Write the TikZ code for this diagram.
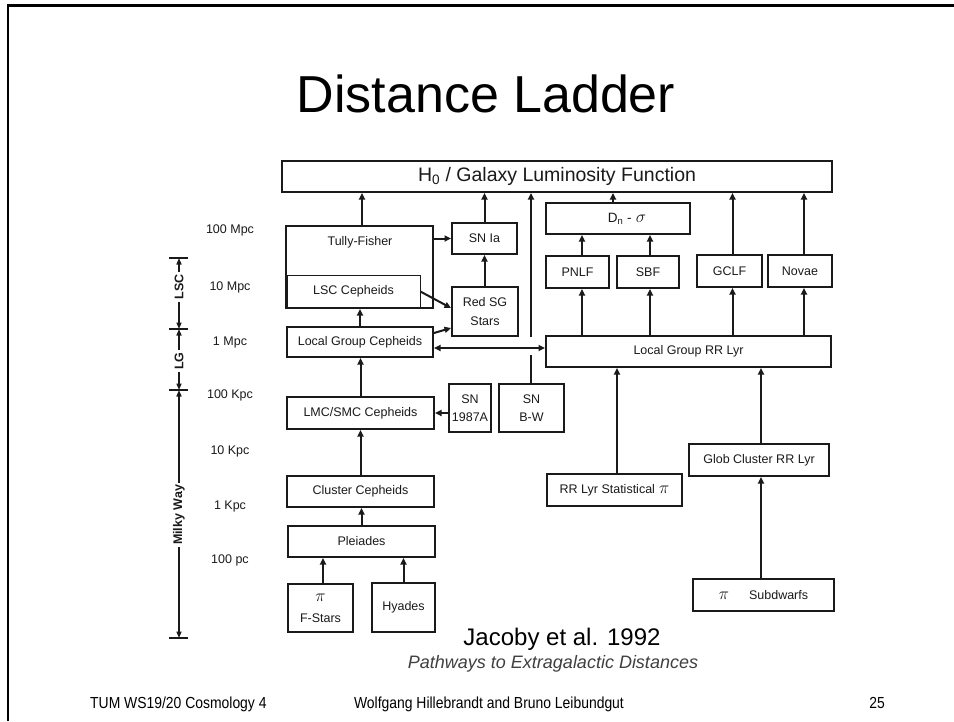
\documentclass[tikz,border=0pt]{standalone}
\usepackage{fontspec}
\setmainfont{Liberation Sans}
\usetikzlibrary{arrows.meta,calc}
\definecolor{ink}{HTML}{1A1A1A}
\definecolor{subt}{HTML}{404040}
\newcommand{\dlfont}{\fontsize{12.5}{15}\selectfont}
\newcommand{\axfont}{\fontsize{12.5}{14}\selectfont\bfseries}
\newcommand{\hzfont}{\fontsize{19.5}{22}\selectfont}
\newcommand{\ftfont}{\fontsize{16}{18}\selectfont}
\newcommand{\bigpi}{{\fontsize{17}{17}\selectfont$\pi$}}
\begin{document}
\begin{tikzpicture}[x=1pt,y=-1pt,
  box/.style={draw=ink, line width=2pt, inner sep=0pt, font=\dlfont, align=center, text=ink},
  arr/.style={draw=ink, line width=2pt, -{Triangle[length=6.5pt,width=6pt]}},
  dblarr/.style={draw=ink, line width=2pt, {Triangle[length=6.5pt,width=6pt]}-{Triangle[length=6.5pt,width=6pt]}},
  plain/.style={draw=ink, line width=2pt},
  axarr/.style={draw=ink, line width=1.5pt, -{Triangle[length=6.5pt,width=5pt]}},
  tickline/.style={draw=ink, line width=1.2pt},
  lbl/.style={font=\dlfont, text=ink, inner sep=1pt},
  axlbl/.style={font=\axfont, text=ink, rotate=90, inner sep=2pt},
  ]
\useasboundingbox (0,0) rectangle (954,721);
\fill[white] (0,0) rectangle (954,721);
% slide frame
\draw[line width=2.5pt, black] (8,721) -- (8,5.5) -- (954,5.5);

% title
\node[font=\fontsize{52}{60}\selectfont, anchor=base] (title) at (486,112) {Distance Ladder};

% boxes
\node[box, minimum width=550pt, minimum height=31pt, font=\hzfont] (h0) at (557,176.5) {H\textsubscript{0} / Galaxy Luminosity Function};
\node[box, minimum width=147pt, minimum height=82pt] (tf) at (359.5,267) {};
\node[lbl] (tft) at (360,242) {Tully-Fisher};
\node[draw=ink, line width=0.8pt, inner sep=0pt, minimum width=133pt, minimum height=33pt, font=\dlfont, text=ink] (lsc) at (353.5,291.5) {LSC Cepheids};
\node[box, minimum width=146pt, minimum height=30pt] (lgc) at (360,342) {Local Group Cepheids};
\node[box, minimum width=147pt, minimum height=32pt] (lmc) at (360.5,413) {LMC/SMC Cepheids};
\node[box, minimum width=147pt, minimum height=31pt] (clc) at (360.5,491.5) {Cluster Cepheids};
\node[box, minimum width=147pt, minimum height=31pt] (ple) at (361.5,541.5) {Pleiades};
\node[box, minimum width=65pt, minimum height=48pt, font=\fontsize{12.5}{21}\selectfont] (fst) at (320.5,608) {\bigpi\\F-Stars};
\node[box, minimum width=63pt, minimum height=49pt] (hya) at (403.5,607.5) {Hyades};
\node[box, minimum width=65pt, minimum height=31pt] (snia) at (484.5,238.5) {SN Ia};
\node[box, minimum width=66pt, minimum height=49pt, font=\fontsize{12.5}{19}\selectfont] (rsg) at (485,311.5) {Red SG\\Stars};
\node[box, minimum width=42pt, minimum height=48pt, font=\fontsize{12.5}{18}\selectfont] (sn87) at (470,408) {SN\\1987A};
\node[box, minimum width=65pt, minimum height=48pt, font=\fontsize{12.5}{18}\selectfont] (snbw) at (531.5,408) {SN\\B-W};
\node[box, minimum width=144pt, minimum height=31pt] (dn) at (618,218.5) {\hspace*{18pt}{\fontsize{13.5}{14}\selectfont D\textsubscript{n} -}\,\,{\fontsize{18}{18}\selectfont$\sigma$}};
\node[box, minimum width=63pt, minimum height=32pt] (pnlf) at (577.5,272) {PNLF};
\node[box, minimum width=62pt, minimum height=32pt] (sbf) at (648,272) {SBF};
\node[box, minimum width=65pt, minimum height=32pt] (gclf) at (729.5,271) {GCLF};
\node[box, minimum width=64pt, minimum height=32pt] (nov) at (800,271) {Novae};
\node[box, minimum width=285pt, minimum height=31pt] (lgrr) at (688.5,351.5) {Local Group RR Lyr};
\node[box, minimum width=135pt, minimum height=32pt] (rrs) at (614.5,490) {RR Lyr Statistical\,\,\bigpi};
\node[box, minimum width=140pt, minimum height=32pt] (glob) at (759,460) {Glob Cluster RR Lyr};
\node[box, minimum width=141pt, minimum height=32pt] (sub) at (763.5,595) {\bigpi\hspace{20pt}Subdwarfs};

% connectors
\draw[arr] ([xshift=2.5pt]tf.north) -- ([xshift=2.5pt]tf.north |- h0.south);
\draw[arr] (snia.north) -- (snia.north |- h0.south);
\draw[arr] (snia.south |- rsg.north) -- (snia.south);
\draw[arr] (snia.west -| tf.east) -- (snia.west);
\draw[arr] (lsc.east) -- ([yshift=3.5pt]rsg.west);
\draw[arr] ([yshift=9pt]lgc.east) -- ([yshift=-16.5pt]rsg.west);
\draw[dblarr] ([yshift=-6pt]lgc.east) -- ([yshift=-6pt]lgc.east -| lgrr.west);
\coordinate (gapb) at (531,355);
\coordinate (gapt) at (531,337);
\draw[plain] (gapb |- snbw.north) -- (gapb);
\draw[arr] (gapt) -- (gapt |- h0.south);
\draw[arr] (sn87.west |- lmc.east) -- (lmc.east);
\draw[arr] (lgc.north) -- (lgc.north |- tf.south);
\draw[arr] (lmc.north) -- (lmc.north |- lgc.south);
\draw[arr] (clc.north) -- (clc.north |- lmc.south);
\draw[arr] (ple.north) -- (ple.north |- clc.south);
\draw[arr] ([xshift=2.5pt]fst.north) -- ([xshift=2.5pt]fst.north |- ple.south);
\draw[arr] (hya.north) -- (hya.north |- ple.south);
\draw[arr] ([xshift=-5pt]dn.north) -- ([xshift=-5pt]dn.north |- h0.south);
\draw[arr] ([xshift=4.5pt]pnlf.north |- lgrr.north) -- ([xshift=4.5pt]pnlf.south);
\draw[arr] ([xshift=4.5pt]pnlf.north) -- ([xshift=4.5pt]pnlf.north |- dn.south);
\draw[arr] ([xshift=2pt]sbf.north |- lgrr.north) -- ([xshift=2pt]sbf.south);
\draw[arr] ([xshift=2pt]sbf.north) -- ([xshift=2pt]sbf.north |- dn.south);
\draw[arr] ([xshift=3pt]gclf.north |- lgrr.north) -- ([xshift=3pt]gclf.south);
\draw[arr] ([xshift=3pt]gclf.north) -- ([xshift=3pt]gclf.north |- h0.south);
\draw[arr] ([xshift=4pt]nov.north |- lgrr.north) -- ([xshift=4pt]nov.south);
\draw[arr] ([xshift=4pt]nov.north) -- ([xshift=4pt]nov.north |- h0.south);
\draw[arr] ([xshift=2.5pt]rrs.north) -- ([xshift=2.5pt]rrs.north |- lgrr.south);
\draw[arr] ([xshift=2pt]glob.north) -- ([xshift=2pt]glob.north |- lgrr.south);
\draw[arr] ([xshift=2pt]glob.south |- sub.north) -- ([xshift=2pt]glob.south);

% distance scale
\node[lbl] (d1) at (230,230) {100 Mpc};
\node[lbl] (d2) at (230,287) {10 Mpc};
\node[lbl] (d3) at (230,342) {1 Mpc};
\node[lbl] (d4) at (230,395) {100 Kpc};
\node[lbl] (d5) at (230,451) {10 Kpc};
\node[lbl] (d6) at (230,506) {1 Kpc};
\node[lbl] (d7) at (230,560) {100 pc};

\coordinate (t1) at (179,258);
\coordinate (t2) at (179,329);
\coordinate (t3) at (179,390);
\coordinate (t4) at (179,638);
\foreach \t in {t1,t2,t3,t4} {\draw[tickline] ([xshift=-10pt]\t) -- ([xshift=9pt]\t);}
\node[axlbl] (lscl) at (179,287) {LSC};
\node[axlbl] (lgl) at (179,361) {LG};
\node[axlbl] (mwl) at (179,515) {Milky Way};
\draw[axarr] (lscl.east) -- (t1);
\draw[axarr] (lscl.west) -- (t2);
\draw[axarr] (lgl.east) -- (t2);
\draw[axarr] (lgl.west) -- (t3);
\draw[axarr] (mwl.east) -- (t3);
\draw[axarr] (mwl.west) -- (t4);

% source
\node[font=\fontsize{24}{28}\selectfont, anchor=base] (src) at (562,645) {Jacoby et al. 1992};
\node[font=\fontsize{18}{22}\selectfont\itshape, text=subt, anchor=base] (book) at (553,668) {Pathways to Extragalactic Distances};

% footer
\node[font=\ftfont, anchor=base west, inner sep=0pt] (f1) at (90,708) {\scalebox{0.87}[1]{TUM WS19/20 Cosmology 4}};
\node[font=\ftfont, anchor=base, inner sep=0pt] (f2) at (489,708) {\scalebox{0.87}[1]{Wolfgang Hillebrandt and Bruno Leibundgut}};
\node[font=\ftfont, anchor=base, inner sep=0pt] (f3) at (877,708) {\scalebox{0.87}[1]{25}};
\end{tikzpicture}
\end{document}
